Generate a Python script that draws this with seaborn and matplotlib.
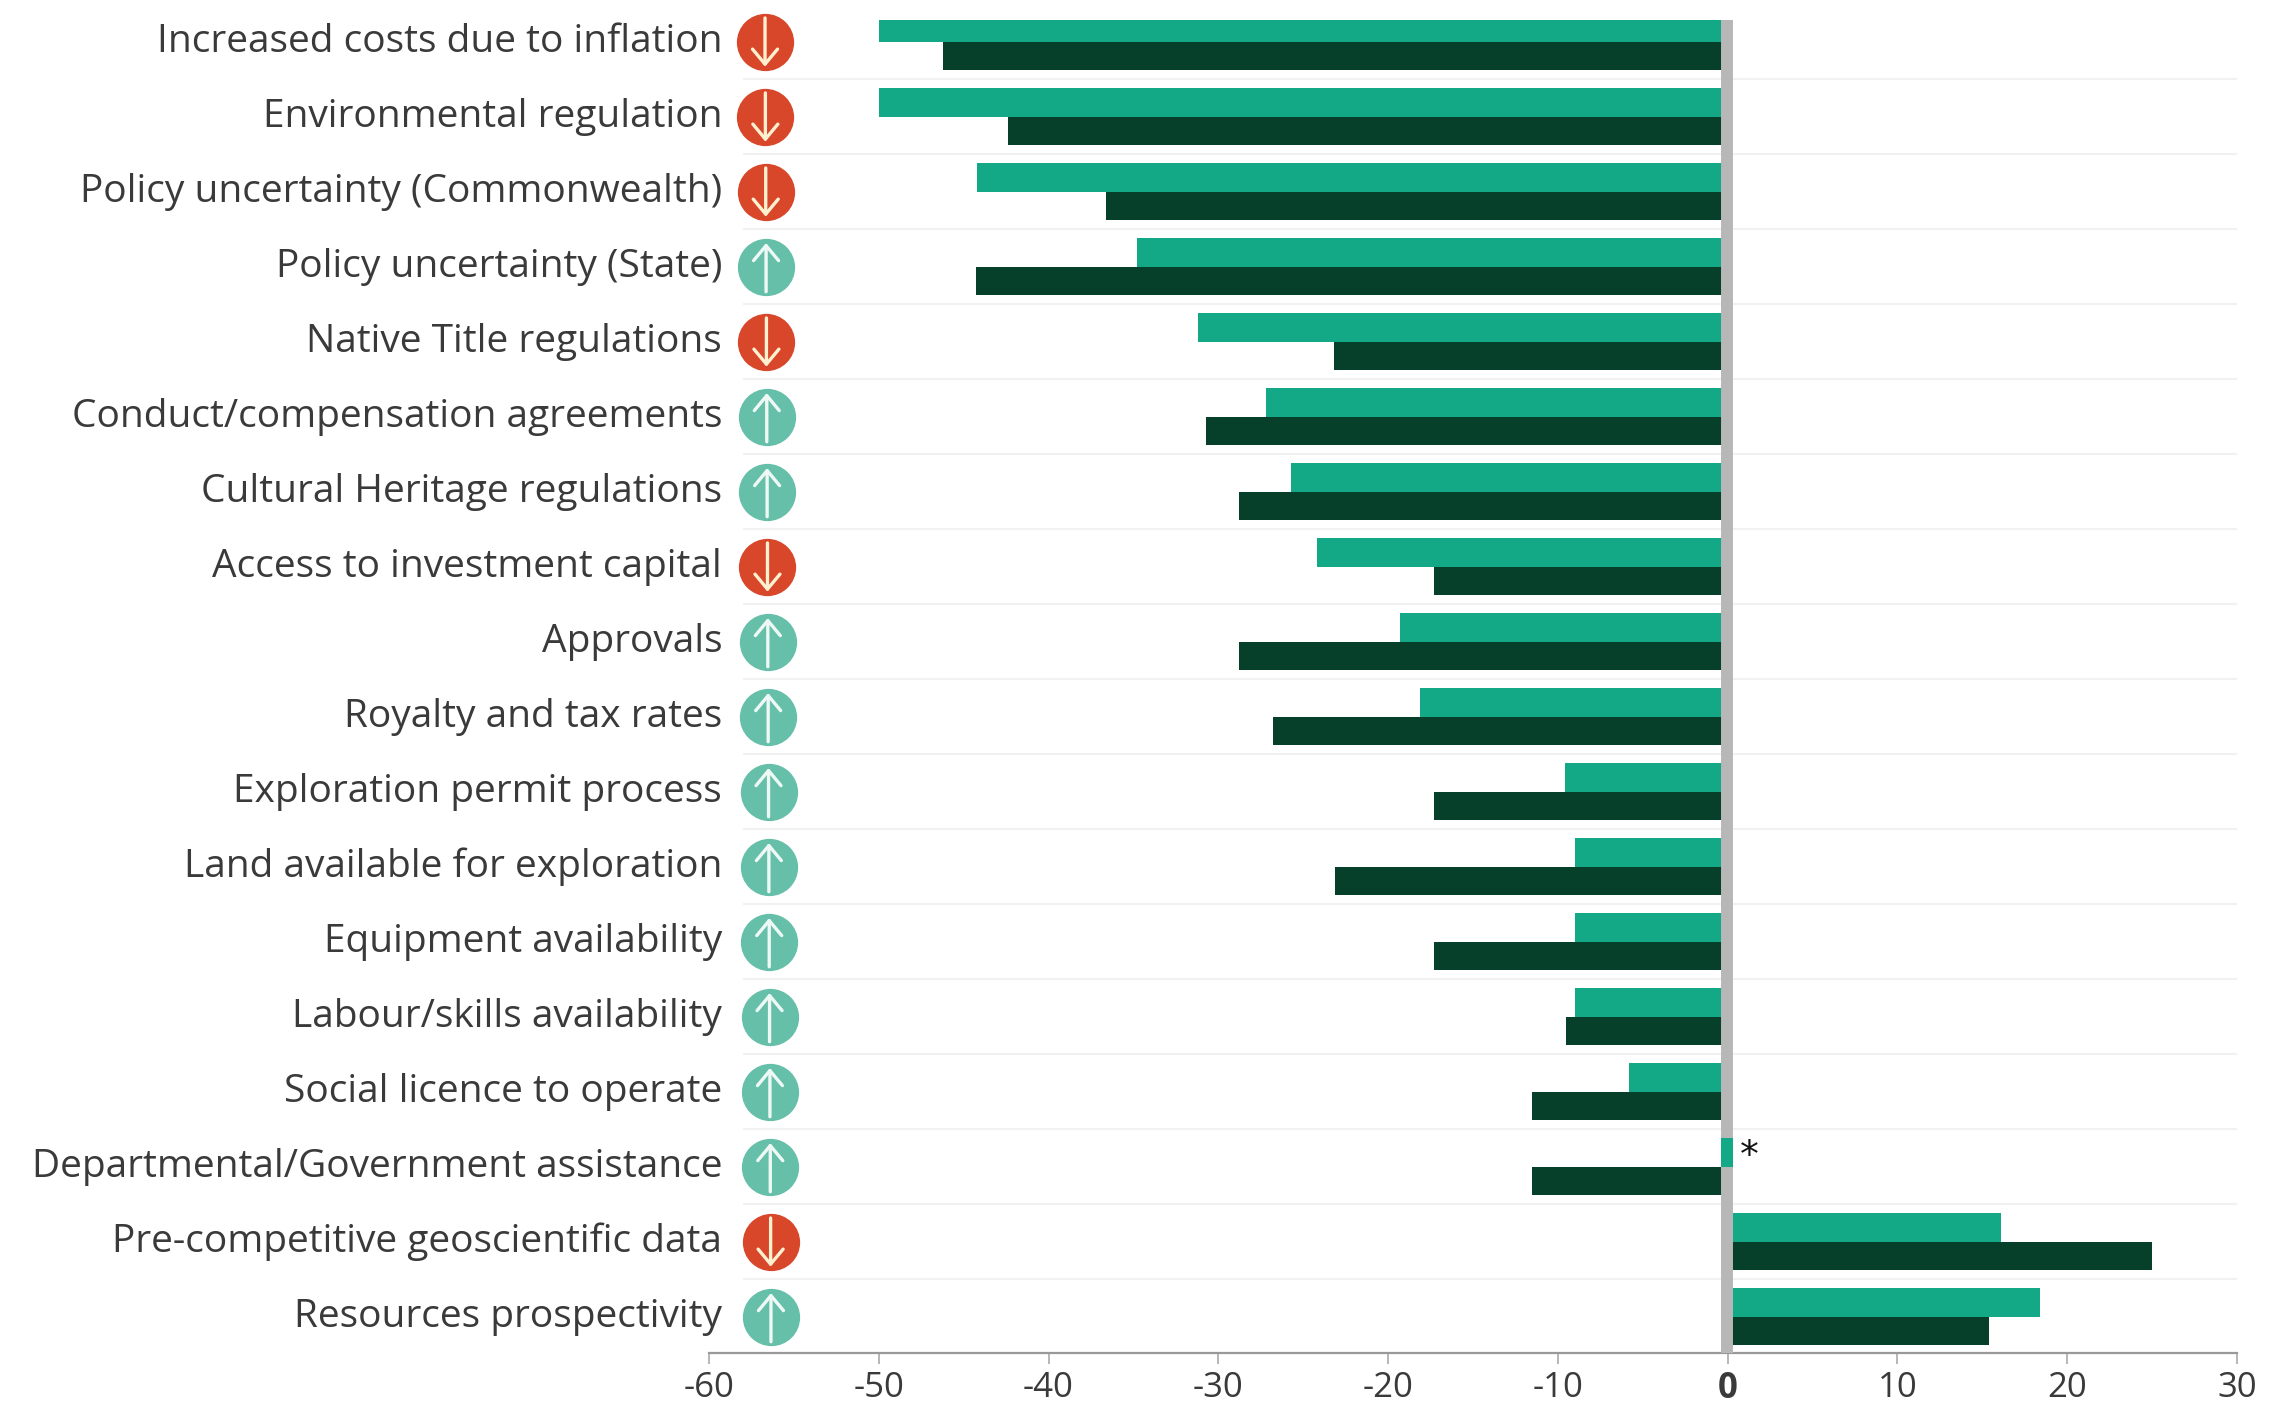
import matplotlib
matplotlib.use("Agg")
import matplotlib.pyplot as plt
import numpy as np
import pandas as pd
import seaborn as sns

# Values
factors = [
    "Increased costs due to inflation",
    "Environmental regulation",
    "Policy uncertainty (Commonwealth)",
    "Policy uncertainty (State)",
    "Native Title regulations",
    "Conduct/compensation agreements",
    "Cultural Heritage regulations",
    "Access to investment capital",
    "Approvals",
    "Royalty and tax rates",
    "Exploration permit process",
    "Land available for exploration",
    "Equipment availability",
    "Labour/skills availability",
    "Social licence to operate",
    "Departmental/Government assistance",
    "Pre-competitive geoscientific data",
    "Resources prospectivity",
]
current = [-50, -50, -44.2, -34.8, -31.2, -27.2, -25.7, -24.2, -19.3, -18.1,
           -9.6, -9.0, -9.0, -9.0, -5.8, 0, 16.1, 18.4]
previous = [-46.2, -42.4, -36.6, -44.3, -23.2, -30.7, -28.8, -17.3, -28.8, -26.8,
            -17.3, -23.1, -17.3, -9.5, -11.5, -11.5, 25, 15.4]
direction = ["down", "down", "down", "up", "down", "up", "up", "down", "up", "up",
             "up", "up", "up", "up", "up", "up", "down", "up"]
x_ticks = [-60, -50, -40, -30, -20, -10, 0, 10, 20, 30]
star_row = 15
star_span = [-0.42, 0.3]

teal = "#14a986"
dark = "#07402a"
red = "#d8472a"
mint = "#66bfa9"
grey = "#b7b7b7"
text_col = "#3a3a3a"

sns.set_theme(style="white")
plt.rcParams["font.family"] = ["Open Sans", "DejaVu Sans"]

df = pd.DataFrame({
    "factor": factors * 2,
    "value": current + previous,
    "period": ["current"] * len(factors) + ["previous"] * len(factors),
})

W, H = 2287, 1416
fig = plt.figure(figsize=(W / 100, H / 100), dpi=100)
ax = fig.add_axes([709 / W, 1 - 1353 / H, (2237 - 709) / W, (1353 - 20) / H])

# row separators sit behind the bars
ax.hlines(np.arange(len(factors) - 1) + 0.5, -58, 30, color="#f1f1f1", lw=1.5, zorder=0)

sns.barplot(data=df, y="factor", x="value", hue="period", order=factors,
            hue_order=["current", "previous"], palette=[teal, dark], width=0.76,
            gap=0, saturation=1, legend=False, ax=ax, zorder=2, linewidth=0)

ax.set_xlim(-60, 30)
ax.set_ylim(17.48, -0.293)
ax.set_xlabel("")
ax.set_ylabel("")

# thick zero line over the bars
ax.axvline(-0.06, color=grey, lw=8.6, zorder=3)
ax.barh(star_row - 0.19, star_span[1] - star_span[0], left=star_span[0], height=0.38,
        color=teal, zorder=4, linewidth=0)
ax.text(1.25, star_row - 0.13, "*", fontsize=27, color="#111111", ha="center", va="center",
        family="DejaVu Sans", zorder=5)

# status icons
for i, d in enumerate(direction):
    x = -56.7 + 0.35 * i / 17
    y = i
    col = red if d == "down" else mint
    ax.scatter([x], [y], s=1700, color=col, clip_on=False, zorder=4, linewidths=0)
    start, end = (y - 0.32, y + 0.33) if d == "down" else (y + 0.33, y - 0.32)
    ax.annotate("", xy=(x, end), xytext=(x, start), zorder=5, annotation_clip=False,
                arrowprops=dict(arrowstyle="->,head_length=0.9,head_width=0.75",
                                color="#fff0d0" if d == "down" else "#eef9f6", lw=2.4,
                                shrinkA=0, shrinkB=0))

sns.despine(ax=ax, left=True, top=True, right=True)
ax.spines["bottom"].set_color("#999999")
ax.spines["bottom"].set_linewidth(1.6)

ax.set_xticks(x_ticks)
ax.set_xticklabels([str(t) for t in x_ticks], fontsize=25, color=text_col)
ax.tick_params(axis="x", bottom=True, length=8, width=1.2, color="#aaaaaa", pad=5)
for lab, t in zip(ax.get_xticklabels(), x_ticks):
    if t == 0:
        lab.set_fontweight("bold")

ax.tick_params(axis="y", left=False, pad=-15.5)
ax.set_yticks(range(len(factors)))
ax.set_yticklabels(factors, fontsize=28, color=text_col, va="center")

fig.savefig("out.png", dpi=100)
